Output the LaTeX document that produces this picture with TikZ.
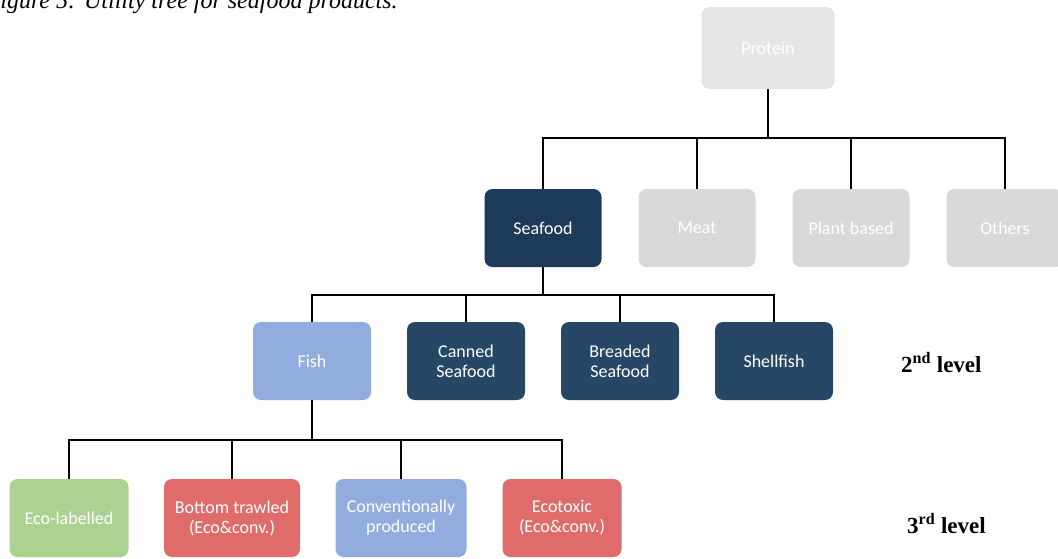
\documentclass[tikz,border=0pt]{standalone}
\usepackage{fontspec}
\setmainfont{Liberation Serif}
\newfontfamily\boxfont{Carlito}

\definecolor{proteingray}{HTML}{E7E6E6}
\definecolor{boxgray}{HTML}{D9D9D9}
\definecolor{seanavy}{HTML}{1D3A5A}
\definecolor{darkblue}{HTML}{264766}
\definecolor{paleblue}{HTML}{91ACDD}
\definecolor{ecogreen}{HTML}{ACD291}
\definecolor{badred}{HTML}{E06B6B}

\begin{document}
\begin{tikzpicture}[x=1pt, y=-1pt,
  box/.style={rounded corners=8pt, minimum width=117pt, minimum height=78pt,
    inner sep=0pt, align=center, text=white,
    font=\boxfont\fontsize{18}{20}\selectfont},
  link/.style={line width=2.5pt, black},
  levellabel/.style={anchor=west, inner sep=0pt,
    font=\bfseries\fontsize{23}{26}\selectfont}]

  % Fix the page size
  \useasboundingbox (0,0) rectangle (1058,558);
  \clip (0,0) rectangle (1058,558);

  % Caption, cut at the top and the left
  \node[anchor=base west, inner sep=0pt, font=\itshape\fontsize{24}{26}\selectfont]
    (caption) at (-14.5,8) {Figure 5: Utility tree for seafood products.};

  % Root
  \node[box, fill=proteingray, minimum width=133pt, minimum height=82pt]
    (protein) at (768,48) {Protein};

  % First level
  \node[box, fill=seanavy] (seafood) at (543,228) {Seafood};
  \foreach \name/\x/\txt in {meat/697/Meat, plant/851/Plant based, others/1005/Others}
    \node[box, fill=boxgray] (\name) at (\x,228) {\txt};

  % Second level
  \node[box, fill=paleblue, minimum width=118pt] (fish) at (312,361) {Fish};
  \foreach \name/\x/\txt in {canned/466/Canned\\Seafood, breaded/620/Breaded\\Seafood,
      shellfish/774/Shellfish}
    \node[box, fill=darkblue, minimum width=118pt] (\name) at (\x,361) {\txt};

  % Third level
  \node[box, fill=ecogreen, minimum width=119pt] (ecolab) at (69,518) {Eco-labelled};
  \node[box, fill=badred, minimum width=136pt] (trawled) at (232,518)
    {Bottom trawled\\(Eco\&conv.)};
  \node[box, fill=paleblue, minimum width=131pt] (conv) at (401,518)
    {Conventionally\\produced};
  \node[box, fill=badred, minimum width=119pt] (ecotox) at (562,518)
    {Ecotoxic\\(Eco\&conv.)};

  % Draw the tree links
  \foreach \child in {seafood, meat, plant, others}
    \draw[link] (protein.south) -- ++(0,49) -| (\child.north);
  \foreach \child in {fish, canned, breaded, shellfish}
    \draw[link] (seafood.south) -- ++(0,28) -| (\child.north);
  \foreach \child in {ecolab, trawled, conv, ecotox}
    \draw[link] (fish.south) -- ++(0,40) -| (\child.north);

  % Level labels
  \node[levellabel] (leveltwo) at (901,363) {2\textsuperscript{nd} level};
  \node[levellabel] (levelthree) at (907,524) {3\textsuperscript{rd} level};
\end{tikzpicture}
\end{document}
